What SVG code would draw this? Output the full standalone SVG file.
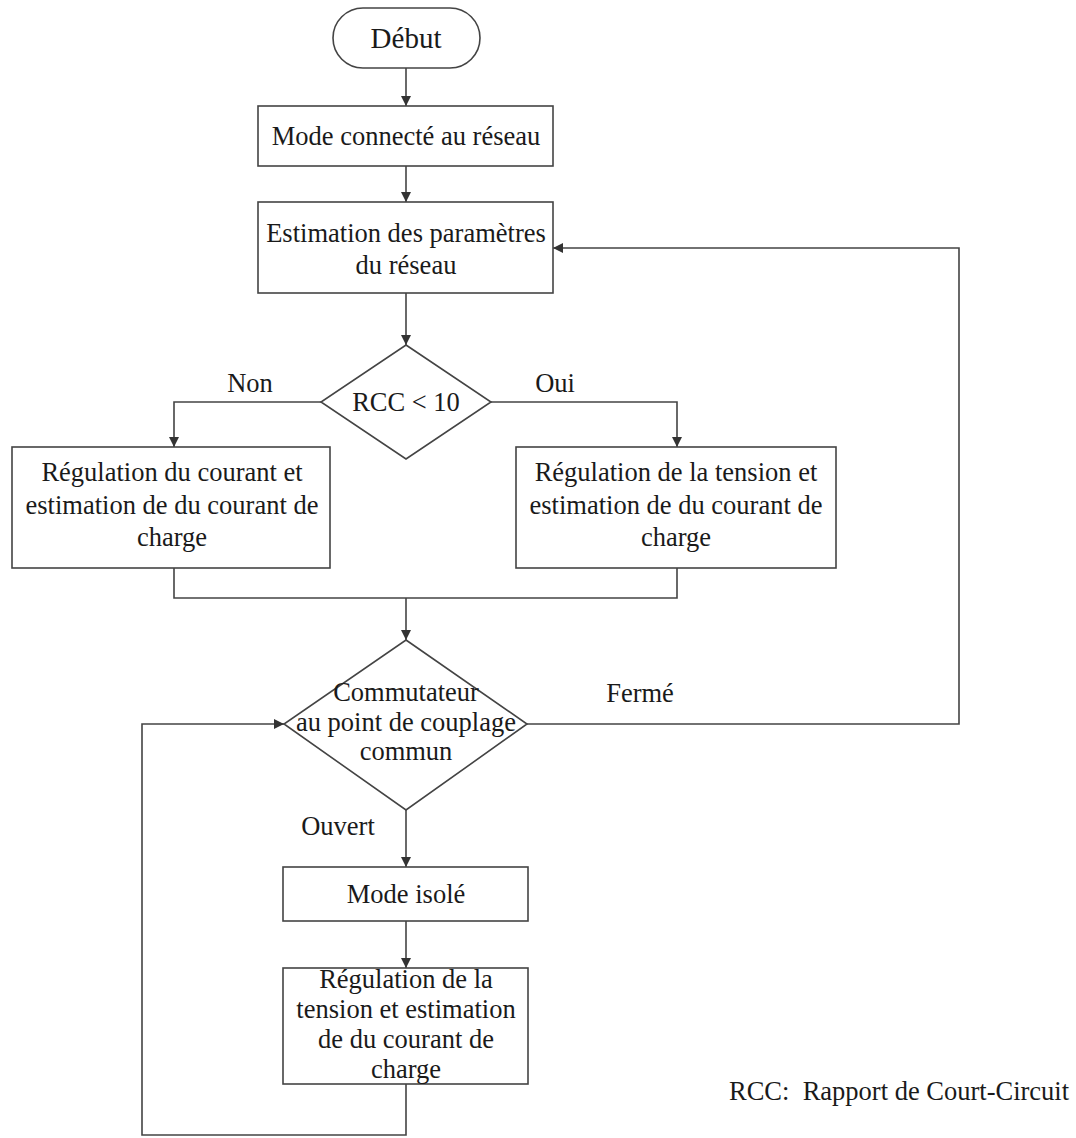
<svg xmlns="http://www.w3.org/2000/svg" width="1076" height="1138" viewBox="0 0 1076 1138">
<defs>
<marker id="ah" viewBox="0 0 10 10" refX="10" refY="5" markerWidth="10" markerHeight="10" markerUnits="userSpaceOnUse" orient="auto">
<path d="M0,0 L10,5 L0,10 z" fill="#333"/>
</marker>
<style>
.s{fill:#fff;stroke:#444;stroke-width:1.6}
.c{fill:none;stroke:#444;stroke-width:1.6}
.t{font-family:"Liberation Serif","Times New Roman",serif;font-size:26.5px;fill:#1a1a1a;text-anchor:middle}
.l{font-family:"Liberation Serif","Times New Roman",serif;font-size:26.5px;fill:#1a1a1a}
</style>
</defs>
<rect width="1076" height="1138" fill="#fff"/>
<g id="connectors">
<path class="c" d="M406,68 V106" marker-end="url(#ah)"/>
<path class="c" d="M406,166 V202" marker-end="url(#ah)"/>
<path class="c" d="M406,293 V345" marker-end="url(#ah)"/>
<path class="c" d="M321,402 H174 V447" marker-end="url(#ah)"/>
<path class="c" d="M491,402 H677 V447" marker-end="url(#ah)"/>
<path class="c" d="M174,568 V598 H677 V568"/>
<path class="c" d="M406,598 V640" marker-end="url(#ah)"/>
<path class="c" d="M527,724 H959 V248 H553" marker-end="url(#ah)"/>
<path class="c" d="M406,810 V867" marker-end="url(#ah)"/>
<path class="c" d="M406,921 V968" marker-end="url(#ah)"/>
<path class="c" d="M406,1084 V1135 H142 V724 H284" marker-end="url(#ah)"/>
</g>
<g id="debut">
<rect class="s" x="333" y="8" width="147" height="60" rx="30"/>
<text class="t" x="406" y="48" style="font-size:29px">Début</text>
</g>
<g id="mode-connecte">
<rect class="s" x="258" y="106" width="295" height="60"/>
<text class="t" x="406" y="145">Mode connecté au réseau</text>
</g>
<g id="estimation">
<rect class="s" x="258" y="202" width="295" height="91"/>
<text class="t" x="406" y="242">Estimation des paramètres</text>
<text class="t" x="406" y="274">du réseau</text>
</g>
<g id="rcc">
<polygon class="s" points="406,345 491,402 406,459 321,402"/>
<text class="t" x="406" y="411">RCC &lt; 10</text>
</g>
<g id="label-non"><text class="t" x="250" y="392">Non</text></g>
<g id="label-oui"><text class="t" x="555" y="392">Oui</text></g>
<g id="regulation-courant">
<rect class="s" x="12" y="447" width="318" height="121"/>
<text class="t" x="172" y="481">Régulation du courant et</text>
<text class="t" x="172" y="514">estimation de du courant de</text>
<text class="t" x="172" y="546">charge</text>
</g>
<g id="regulation-tension">
<rect class="s" x="516" y="447" width="320" height="121"/>
<text class="t" x="676" y="481">Régulation de la tension et</text>
<text class="t" x="676" y="514">estimation de du courant de</text>
<text class="t" x="676" y="546">charge</text>
</g>
<g id="commutateur">
<polygon class="s" points="406,640 527,724 406,810 284,724"/>
<text class="t" x="406" y="701">Commutateur</text>
<text class="t" x="406" y="731">au point de couplage</text>
<text class="t" x="406" y="760">commun</text>
</g>
<g id="label-ferme"><text class="t" x="640" y="702">Fermé</text></g>
<g id="label-ouvert"><text class="t" x="338" y="835">Ouvert</text></g>
<g id="mode-isole">
<rect class="s" x="283" y="867" width="245" height="54"/>
<text class="t" x="406" y="903">Mode isolé</text>
</g>
<g id="regulation-isole">
<rect class="s" x="283" y="968" width="245" height="116"/>
<text class="t" x="406" y="988">Régulation de la</text>
<text class="t" x="406" y="1018">tension et estimation</text>
<text class="t" x="406" y="1048">de du courant de</text>
<text class="t" x="406" y="1078">charge</text>
</g>
<g id="note">
<text class="l" x="729" y="1100" xml:space="preserve">RCC:  Rapport de Court-Circuit</text>
</g>
</svg>
